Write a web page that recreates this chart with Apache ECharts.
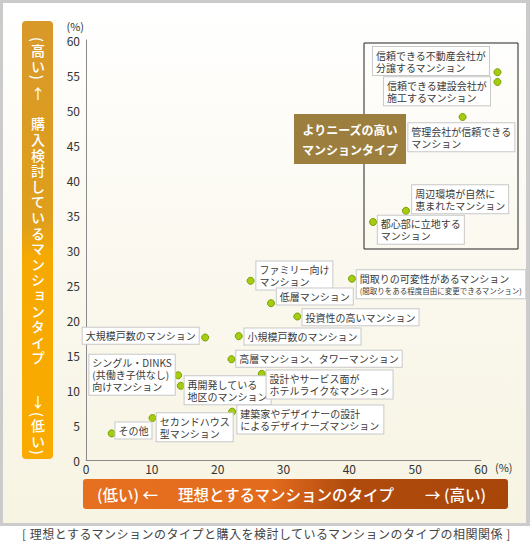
<!DOCTYPE html>
<html lang="ja">
<head>
    <meta charset="UTF-8">
    <title>理想とするマンションのタイプと購入を検討しているマンションのタイプの相関関係</title>
    <script src="https://cdn.jsdelivr.net/npm/echarts@6/dist/echarts.min.js"></script>
    <style>
        body { margin: 0; width: 530px; height: 543px; background: #fff; position: relative; overflow: hidden;
               font-family: "Noto Sans CJK JP", "Noto Sans", sans-serif; }
        #frame { position: absolute; left: 0; top: 0; width: 530px; height: 526px; background: #cbcbcb; }
        #panel { position: absolute; left: 3px; top: 3px; width: 523px; height: 520px;
                 background: linear-gradient(to bottom, #ffffff 0%, #fbf9f0 45%, #f7f4e3 100%); }
        #main { position: absolute; left: 0; top: 0; width: 530px; height: 543px; }
        #vbar { position: absolute; left: 22px; top: 21px; width: 31px; height: 438px; border-radius: 4px;
                background: linear-gradient(172deg, #d9992a 0%, #de9f1c 46%, #f6a900 54%, #f9ab00 100%);
                color: #fff; font-size: 14px; font-weight: 500; writing-mode: vertical-rl; white-space: nowrap;
                line-height: 31px; padding-top: 16px; box-sizing: border-box; letter-spacing: 1.6px; }
        #vbar .up { text-orientation: upright; }
        #hbar { position: absolute; left: 83px; top: 479px; width: 425px; height: 30px; border-radius: 3px;
                background: linear-gradient(100deg, #e6701f 0%, #e26b1e 44%, #b04b0c 62%, #a8460a 100%);
                color: #fff; font-size: 15.5px; font-weight: 500; line-height: 30px; }
        #hbar span { position: absolute; top: 0; white-space: nowrap; }
        #caption { position: absolute; left: 22px; top: 525px; font-size: 12px; line-height: 17px; letter-spacing: 0.5px;
                   color: #444; white-space: nowrap; }
    </style>
</head>
<body>
<div id="frame"></div>
<div id="panel"></div>
<div id="main"></div>
<div id="vbar"><span>(高い)</span><span class="up" style="margin-top:6px">↑</span><span style="margin-top:14px">購入検討しているマンションタイプ</span><span class="up" style="margin-top:28px">↓</span><span style="margin-top:2px">(低い)</span></div>
<div id="hbar"><span style="left:14px">(低い) ←</span><span style="left:95px">理想とするマンションのタイプ</span><span style="left:342px">→ (高い)</span></div>
<div id="caption">[ 理想とするマンションのタイプと購入を検討しているマンションのタイプの相関関係 ]</div>
<script type="text/javascript">
    // マンションタイプ名（改行はラベルの折り返し）
    var names = [
        '信頼できる不動産会社が\n分譲するマンション',
        '信頼できる建設会社が\n施工するマンション',
        '管理会社が信頼できる\nマンション',
        '周辺環境が自然に\n恵まれたマンション',
        '都心部に立地する\nマンション',
        'ファミリー向け\nマンション',
        '間取りの可変性があるマンション',
        '低層マンション',
        '投資性の高いマンション',
        '大規模戸数のマンション',
        '小規模戸数のマンション',
        '高層マンション、タワーマンション',
        'シングル・DINKS\n(共働き子供なし)\n向けマンション',
        '再開発している\n地区のマンション',
        '設計やサービス面が\nホテルライクなマンション',
        '建築家やデザイナーの設計\nによるデザイナーズマンション',
        'セカンドハウス\n型マンション',
        'その他'
    ];
    // 理想とするマンションのタイプ (%)
    var idealPct = [62.5, 62.5, 57.2, 48.6, 43.6, 25.0, 40.4, 28.1, 32.1, 18.1, 23.2, 22.1, 14.0, 14.4, 26.7, 22.2, 10.1, 3.9];
    // 購入を検討しているマンションのタイプ (%)
    var considerPct = [55.4, 54.0, 49.0, 35.6, 34.0, 25.6, 25.9, 22.4, 20.5, 17.5, 17.7, 14.4, 12.1, 10.6, 12.3, 6.9, 6.0, 3.8];
    // 補足（小さい文字）
    var notes = { '間取りの可変性があるマンション': '(間取りをある程度自由に変更できるマンション)' };

    // ラベルの置き場所：[揃え, 点からのx, 点からのy]
    var labelPlace = [
        ['left', -124, -24.6], ['left', -113, -4.3], ['left', -53.7, 6.7], ['left', 6.7, -25],
        ['left', 5.3, -5.7], ['left', 6.3, -18.7], ['left', 5.3, -8], ['left', 6.3, -14.3],
        ['left', 5.7, -6.7], ['right', -6, -9.3], ['left', 6.3, -7], ['left', 5.3, -8],
        ['left', -88.3, -20], ['left', 4.3, -9], ['left', 5.3, -3], ['left', 5.7, -5.7],
        ['left', 4.7, -4.3], ['left', 4.3, -10.3]
    ];
    var dot = 7;

    var myChart = echarts.init(document.getElementById('main'), null, { renderer: 'svg' });

    var points = names.map(function (n, i) {
        var p = labelPlace[i];
        return {
            name: n,
            value: [idealPct[i], considerPct[i]],
            label: { position: [p[1] + dot / 2, p[2] + dot / 2], align: p[0] }
        };
    });

    var option = {
        backgroundColor: 'transparent',
        textStyle: { fontFamily: '"Noto Sans CJK JP", sans-serif' },
        grid: { left: 86, right: 49, top: 40, bottom: 83 },
        xAxis: {
            type: 'value', min: 0, max: 60, interval: 10,
            name: '(%)', nameLocation: 'end', nameGap: 14,
            nameTextStyle: { color: '#333', fontSize: 11, verticalAlign: 'top', padding: [1, 0, 0, 0] },
            axisLine: { lineStyle: { color: '#8a8a8a', width: 1 } },
            axisTick: { show: false },
            axisLabel: { color: '#333', fontSize: 12, margin: 2 },
            splitLine: { show: false }
        },
        yAxis: {
            type: 'value', min: 0, max: 60, interval: 5,
            name: '(%)', nameLocation: 'end', nameGap: 9,
            nameTextStyle: { color: '#333', fontSize: 11, align: 'right', padding: [0, 2, 0, 0] },
            axisLine: { show: true, lineStyle: { color: '#8a8a8a', width: 1 } },
            axisTick: { show: false },
            axisLabel: { color: '#333', fontSize: 12, margin: 6 },
            splitLine: { show: false }
        },
        graphic: [
            {
                type: 'rect', z: 0,
                shape: { x: 364, y: 43, width: 154, height: 206 },
                style: { fill: 'none', stroke: '#222', lineWidth: 1 }
            },
            {
                type: 'group', z: 100,
                children: [
                    { type: 'rect', shape: { x: 294, y: 114, width: 112, height: 50 }, style: { fill: '#9c7f3f' } },
                    {
                        type: 'text', x: 350, y: 139,
                        style: {
                            text: 'よりニーズの高い\nマンションタイプ', fill: '#fff', fontSize: 12, fontWeight: 'bold',
                            lineHeight: 20, align: 'center', verticalAlign: 'middle',
                            fontFamily: '"Noto Sans CJK JP", sans-serif'
                        }
                    }
                ]
            }
        ],
        series: [
            {
                type: 'scatter',
                clip: false,
                symbolSize: dot,
                itemStyle: { color: '#a6cc12', borderColor: '#76a000', borderWidth: 1, opacity: 1 },
                label: {
                    show: true,
                    verticalAlign: 'top',
                    color: '#3a3a3a',
                    fontSize: 10,
                    lineHeight: 12,
                    backgroundColor: '#fff',
                    borderColor: '#c8c8c8',
                    borderWidth: 1,
                    padding: [2, 3],
                    formatter: function (p) {
                        var t = p.name;
                        if (notes[p.name]) t += '\n{s|' + notes[p.name] + '}';
                        return t;
                    },
                    rich: { s: { fontSize: 7.5, lineHeight: 12, color: '#3a3a3a' } }
                },
                emphasis: { disabled: true },
                data: points
            }
        ]
    };

    myChart.setOption(option);
</script>
</body>
</html>
